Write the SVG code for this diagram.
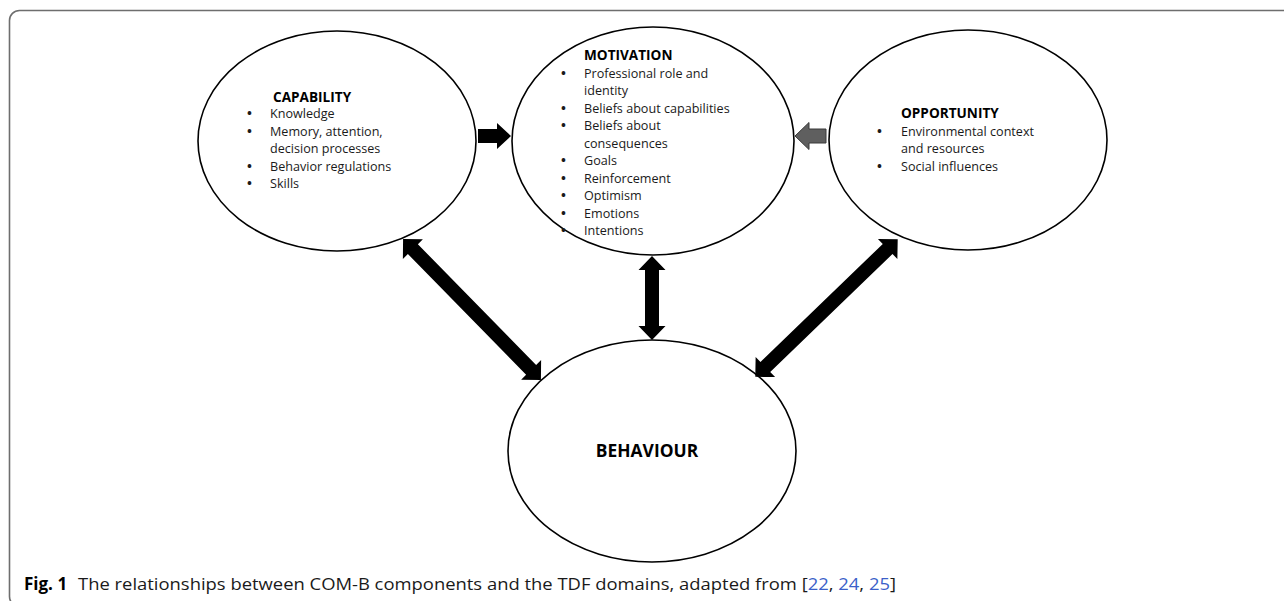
<svg xmlns="http://www.w3.org/2000/svg" width="1284" height="601" viewBox="0 0 1284 601">
<style>
.node ellipse{fill:#fff;stroke:#000;stroke-width:1.6}
text{font-family:"Open Sans","Noto Sans",sans-serif;fill:#1a1a1a}
.t{font-size:12.6px}
.b{font-size:13px;font-weight:bold}
.h{font-size:13.6px;font-weight:bold;fill:#000}
.cap{font-size:17px}
.ref{fill:#3b5fc9}
.blk{fill:#000}
</style>
<rect x="9.5" y="10.5" width="1300" height="596" rx="10" fill="#fff" stroke="#6e6e6e" stroke-width="1.6"/>
<g id="capability" class="node">
<ellipse cx="337" cy="141" rx="139" ry="110"/>
<text class="h" x="273" y="102">CAPABILITY</text>
<g class="t">
<text class="b" x="247" y="118">•</text><text x="270" y="118">Knowledge</text>
<text class="b" x="247" y="136">•</text><text x="270" y="136">Memory, attention,</text>
<text x="270" y="153">decision processes</text>
<text class="b" x="247" y="171">•</text><text x="270" y="171">Behavior regulations</text>
<text class="b" x="247" y="188">•</text><text x="270" y="188">Skills</text>
</g>
</g>
<g id="motivation" class="node">
<ellipse cx="653" cy="141" rx="141" ry="114"/>
<text class="h" x="584" y="60">MOTIVATION</text>
<g class="t">
<text class="b" x="561" y="77.5">•</text><text x="584" y="77.5">Professional role and</text>
<text x="584" y="95">identity</text>
<text class="b" x="561" y="112.5">•</text><text x="584" y="112.5">Beliefs about capabilities</text>
<text class="b" x="561" y="130">•</text><text x="584" y="130">Beliefs about</text>
<text x="584" y="147.5">consequences</text>
<text class="b" x="561" y="165">•</text><text x="584" y="165">Goals</text>
<text class="b" x="561" y="182.5">•</text><text x="584" y="182.5">Reinforcement</text>
<text class="b" x="561" y="200">•</text><text x="584" y="200">Optimism</text>
<text class="b" x="561" y="217.5">•</text><text x="584" y="217.5">Emotions</text>
<text class="b" x="561" y="235">•</text><text x="584" y="235">Intentions</text>
</g>
</g>
<g id="opportunity" class="node">
<ellipse cx="968" cy="140" rx="139" ry="110"/>
<text class="h" x="901" y="118">OPPORTUNITY</text>
<g class="t">
<text class="b" x="877" y="136">•</text><text x="901" y="136">Environmental context</text>
<text x="901" y="153">and resources</text>
<text class="b" x="877" y="171">•</text><text x="901" y="171">Social influences</text>
</g>
</g>
<g id="behaviour" class="node">
<ellipse cx="652" cy="451" rx="144" ry="111"/>
<text x="647" y="457" text-anchor="middle" style="font-size:17.4px;font-weight:bold;fill:#000">BEHAVIOUR</text>
</g>
<g id="connectors">
<path class="blk" d="M478 129 L497 129 L497 123 L511 136 L497 149 L497 143 L478 143 Z"/>
<path d="M826 129 L809 129 L809 122.5 L795 136 L809 149.5 L809 143 L826 143 Z" fill="#5f5f5f" stroke="#3a3a3a" stroke-width="1"/>
<path class="blk" transform="translate(472 309.5) rotate(45.6)" d="M-98.5 0 L-84.5 -14 L-84.5 -7 L84.5 -7 L84.5 -14 L98.5 0 L84.5 14 L84.5 7 L-84.5 7 L-84.5 14 Z"/>
<path class="blk" transform="translate(826.5 308) rotate(136)" d="M-99 0 L-85 -14 L-85 -7 L85 -7 L85 -14 L99 0 L85 14 L85 7 L-85 7 L-85 14 Z"/>
<path class="blk" transform="translate(652 298) rotate(90)" d="M-42 0 L-28 -13.5 L-28 -7 L28 -7 L28 -13.5 L42 0 L28 13.5 L28 7 L-28 7 L-28 13.5 Z"/>
</g>
<text class="cap" x="24" y="590" font-weight="bold" style="fill:#000">Fig. 1</text>
<text class="cap" x="78" y="590" textLength="818" lengthAdjust="spacingAndGlyphs">The relationships between COM-B components and the TDF domains, adapted from [<tspan class="ref">22</tspan>, <tspan class="ref">24</tspan>, <tspan class="ref">25</tspan>]</text>
</svg>
